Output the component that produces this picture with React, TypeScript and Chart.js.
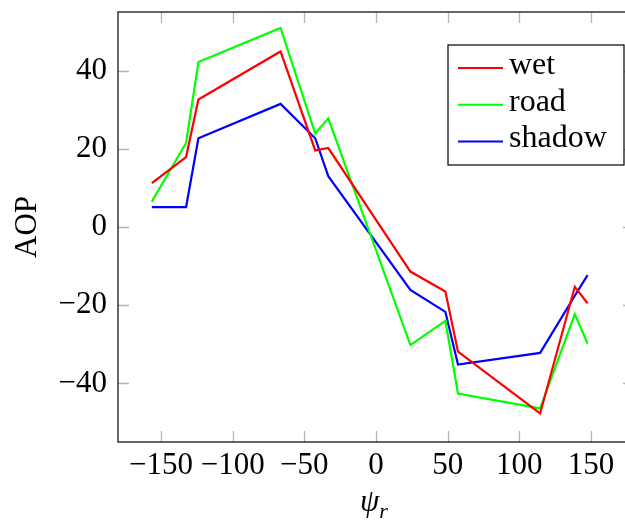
import React, { useEffect, useRef } from "react";
import { Chart, registerables } from "chart.js";

Chart.register(...registerables);

const PSI_R = [-156.4, -132.5, -123.9, -66.6, -42.4, -33.3, 24.0, 48.4, 57.2, 114.5, 138.7, 147.6];
const WET = [11.2, 17.9, 32.6, 44.9, 19.6, 20.2, -11.4, -16.5, -31.9, -47.7, -15.3, -19.5];
const ROAD = [6.5, 21.5, 42.2, 50.9, 23.9, 27.8, -30.2, -24.0, -42.6, -46.4, -22.3, -29.8];
const SHADOW = [5.1, 5.1, 22.7, 31.5, 22.7, 13.0, -16.1, -21.7, -35.2, -32.2, -17.6, -12.3];
const SERIES_NAMES = ["wet", "road", "shadow"];
const SERIES_COLORS = ["#ff0000", "#00ff00", "#0000ff"];
const X_MIN = -180;
const X_MAX = 180;
const Y_MIN = -55;
const Y_MAX = 55;
const X_STEP = 50;
const Y_STEP = 20;
const X_TITLE_MAIN = "ψ";
const X_TITLE_SUB = "r";
const Y_TITLE = "AOP";

const FONT = "'Liberation Serif', 'Times New Roman', serif";
const FONT_SIZE = 31;

const fmt = (v: number) => (v < 0 ? "\u2212" + Math.abs(v) : String(v));

const framePlugin = {
  id: "frameTicks",
  beforeDatasetsDraw(chart: any) {
    const { ctx, chartArea, scales } = chart;
    const len = 11;
    ctx.save();
    ctx.strokeStyle = "#b4b4b4";
    ctx.lineWidth = 1.3;
    ctx.beginPath();
    scales.x.ticks.forEach((t: any) => {
      const px = Math.round(scales.x.getPixelForValue(t.value)) + 0.5;
      ctx.moveTo(px, chartArea.bottom);
      ctx.lineTo(px, chartArea.bottom - len);
      ctx.moveTo(px, chartArea.top);
      ctx.lineTo(px, chartArea.top + len);
    });
    scales.y.ticks.forEach((t: any) => {
      const py = Math.round(scales.y.getPixelForValue(t.value)) + 0.5;
      ctx.moveTo(chartArea.left, py);
      ctx.lineTo(chartArea.left + len, py);
      ctx.moveTo(chartArea.right, py);
      ctx.lineTo(chartArea.right - len, py);
    });
    ctx.stroke();
    ctx.restore();
  },
  afterDatasetsDraw(chart: any) {
    const { ctx, chartArea } = chart;
    ctx.save();
    ctx.strokeStyle = "#262626";
    ctx.lineWidth = 1.4;
    ctx.strokeRect(chartArea.left, chartArea.top, chartArea.right - chartArea.left, chartArea.bottom - chartArea.top);
    ctx.restore();
  },
  afterDraw(chart: any) {
    const { ctx, chartArea } = chart;
    ctx.save();
    // legend
    const boxRight = chartArea.right - 10;
    const boxLeft = boxRight - 176;
    const boxTop = chartArea.top + 33;
    const boxH = 120;
    ctx.fillStyle = "#ffffff";
    ctx.fillRect(boxLeft, boxTop, boxRight - boxLeft, boxH);
    ctx.strokeStyle = "#000000";
    ctx.lineWidth = 1.2;
    ctx.strokeRect(boxLeft, boxTop, boxRight - boxLeft, boxH);
    ctx.font = `32px ${FONT}`;
    ctx.textBaseline = "alphabetic";
    ctx.textAlign = "left";
    chart.data.datasets.forEach((ds: any, i: number) => {
      const cy = boxTop + 23 + i * 36.7;
      ctx.strokeStyle = ds.borderColor;
      ctx.lineWidth = 2;
      ctx.beginPath();
      ctx.moveTo(boxLeft + 10, cy);
      ctx.lineTo(boxLeft + 55, cy);
      ctx.stroke();
      ctx.fillStyle = "#000";
      ctx.fillText(ds.label, boxLeft + 61, cy + 6);
    });
    // axis titles
    const xs = chart.scales.x;
    ctx.fillStyle = "#000";
    ctx.font = `italic 31px ${FONT}`;
    const wMain = ctx.measureText(X_TITLE_MAIN).width;
    ctx.font = `italic 22px ${FONT}`;
    const wSub = ctx.measureText(X_TITLE_SUB).width;
    const center = xs.getPixelForValue(0);
    const startX = center - (wMain + wSub) / 2 - 2;
    ctx.font = `italic 31px ${FONT}`;
    ctx.fillText(X_TITLE_MAIN, startX, 511);
    ctx.font = `italic 22px ${FONT}`;
    ctx.fillText(X_TITLE_SUB, startX + wMain, 518);
    ctx.translate(36, (chartArea.top + chartArea.bottom) / 2);
    ctx.rotate(-Math.PI / 2);
    ctx.textAlign = "center";
    ctx.font = `31px ${FONT}`;
    ctx.fillText(Y_TITLE, 0, 0);
    ctx.restore();
  },
};

export default function App() {
  const ref = useRef<HTMLCanvasElement | null>(null);
  useEffect(() => {
    if (!ref.current) return;
    const series = [WET, ROAD, SHADOW];
    const chart = new Chart(ref.current, {
      type: "line",
      data: {
        datasets: series.map((vals, i) => ({
          label: SERIES_NAMES[i],
          data: PSI_R.map((x, j) => ({ x, y: vals[j] })),
          borderColor: SERIES_COLORS[i],
          backgroundColor: SERIES_COLORS[i],
          borderWidth: 2.2,
          pointRadius: 0,
          tension: 0,
          fill: false,
        })),
      },
      options: {
        responsive: false,
        animation: false,
        layout: { padding: { top: 12, left: 0, right: 0, bottom: 0 } },
        plugins: { legend: { display: false }, tooltip: { enabled: false } },
        scales: {
          x: {
            type: "linear",
            min: X_MIN,
            max: X_MAX,
            border: { display: false },
            grid: { display: false, drawTicks: false },
            ticks: {
              stepSize: X_STEP,
              includeBounds: false,
              autoSkip: false,
              maxRotation: 0,
              padding: 5,
              color: "#000",
              font: { family: FONT, size: FONT_SIZE },
              callback: (v: any) => fmt(Number(v)),
            },
            afterFit: (s: any) => {
              s.height = 80;
              s.paddingLeft = 0;
              s.paddingRight = 0;
            },
          },
          y: {
            type: "linear",
            min: Y_MIN,
            max: Y_MAX,
            border: { display: false },
            grid: { display: false, drawTicks: false },
            ticks: {
              stepSize: Y_STEP,
              includeBounds: false,
              autoSkip: false,
              padding: 11,
              color: "#000",
              font: { family: FONT, size: FONT_SIZE },
              callback: (v: any) => fmt(Number(v)),
            },
            afterFit: (s: any) => {
              s.width = 118;
              s.paddingTop = 0;
              s.paddingBottom = 0;
            },
          },
        },
      },
      plugins: [framePlugin],
    });
    return () => chart.destroy();
  }, []);
  return (
    <div style={{ position: "fixed", left: 0, top: 0, width: 625, height: 522, overflow: "hidden", background: "#fff" }}>
      <canvas ref={ref} width={634} height={522} style={{ width: 634, height: 522, display: "block" }} />
    </div>
  );
}
